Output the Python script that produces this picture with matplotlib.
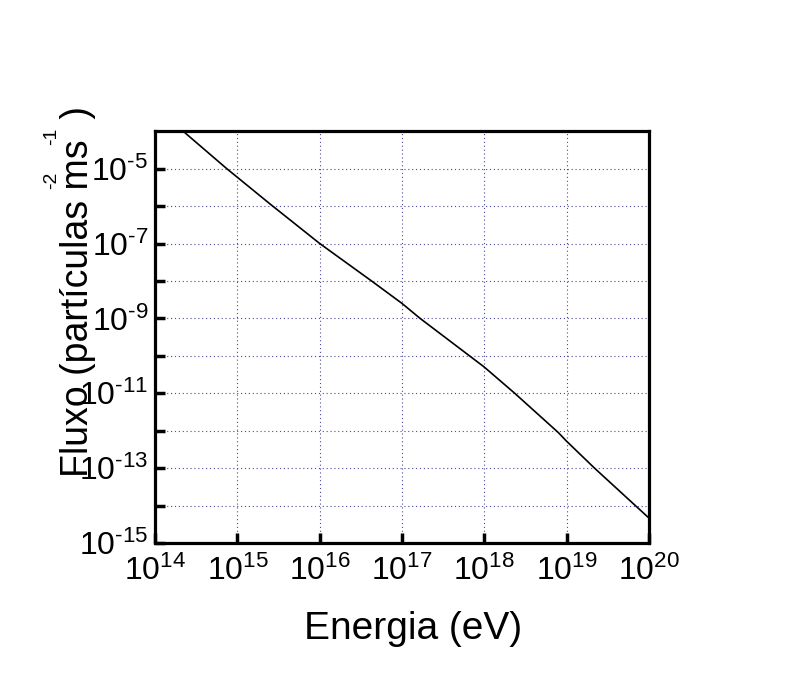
import matplotlib
matplotlib.use("Agg")
import matplotlib.pyplot as plt
import numpy as np

plt.rcParams['font.family'] = ['Liberation Sans', 'DejaVu Sans']
plt.rcParams['mathtext.fontset'] = 'custom'
plt.rcParams['mathtext.rm'] = 'Liberation Sans'
plt.rcParams['mathtext.it'] = 'Liberation Sans'

# curve (log10 of energy in eV, log10 of flux)
log_energy = [14.34, 14.87, 15.40, 16.00, 16.63, 17.00, 17.22, 17.82, 18.00,
              18.37, 18.90, 19.00, 19.34, 20.00]
log_flux = [-4.0, -5.0, -5.95, -7.0, -8.0, -8.6, -9.0, -10.0, -10.3,
            -11.0, -12.05, -12.28, -13.0, -14.33]

x_exps = [14, 15, 16, 17, 18, 19, 20]
y_exps = list(range(-15, -4))
y_label_exps = [-15, -13, -11, -9, -7, -5]

energy = 10.0 ** np.array(log_energy)
flux = 10.0 ** np.array(log_flux)


def pow_label(e):
    # plain hyphen in the exponent, like the original
    s = str(e).replace('-', r'\text{-}')
    return r'$10^{%s}$' % s


fig = plt.figure(figsize=(8, 6.8), dpi=100)
ax = fig.add_axes([0.194, 0.2015, 0.617, 0.6055])

ax.plot(energy, flux, color='black', lw=1.2)
ax.set_xscale('log')
ax.set_yscale('log')
ax.set_xlim(1e14, 1e20)
ax.set_ylim(1e-15, 1e-4)

ax.set_xticks([10.0 ** e for e in x_exps])
ax.set_xticklabels([pow_label(e) for e in x_exps])
ax.set_yticks([10.0 ** e for e in y_exps])
ax.set_yticklabels([pow_label(e) if e in y_label_exps else '' for e in y_exps])
ax.minorticks_off()

ax.tick_params(direction='in', length=7, width=2.5, labelsize=23)
ax.tick_params(axis='x', pad=9)
ax.tick_params(axis='y', pad=5)
for s in ax.spines.values():
    s.set_linewidth(2.3)

ax.grid(True, which='major', color='#4a4a9a', linestyle=(0, (1, 2.5)), lw=0.8)

ax.set_xlabel('Energia (eV)', fontsize=28)
ax.xaxis.set_label_coords(0.522, -0.165)

# y label, with the exponents sitting apart as in the original
fig.text(0.098, 0.571, 'Fluxo (partículas ms  )', rotation=90, fontsize=27,
         ha='center', va='center')
fig.text(0.064, 1 - 180 / 680, '-2', rotation=90, fontsize=14, ha='center', va='center')
fig.text(0.064, 1 - 136 / 680, '-1', rotation=90, fontsize=14, ha='center', va='center')

fig.savefig('out.png', dpi=100)
